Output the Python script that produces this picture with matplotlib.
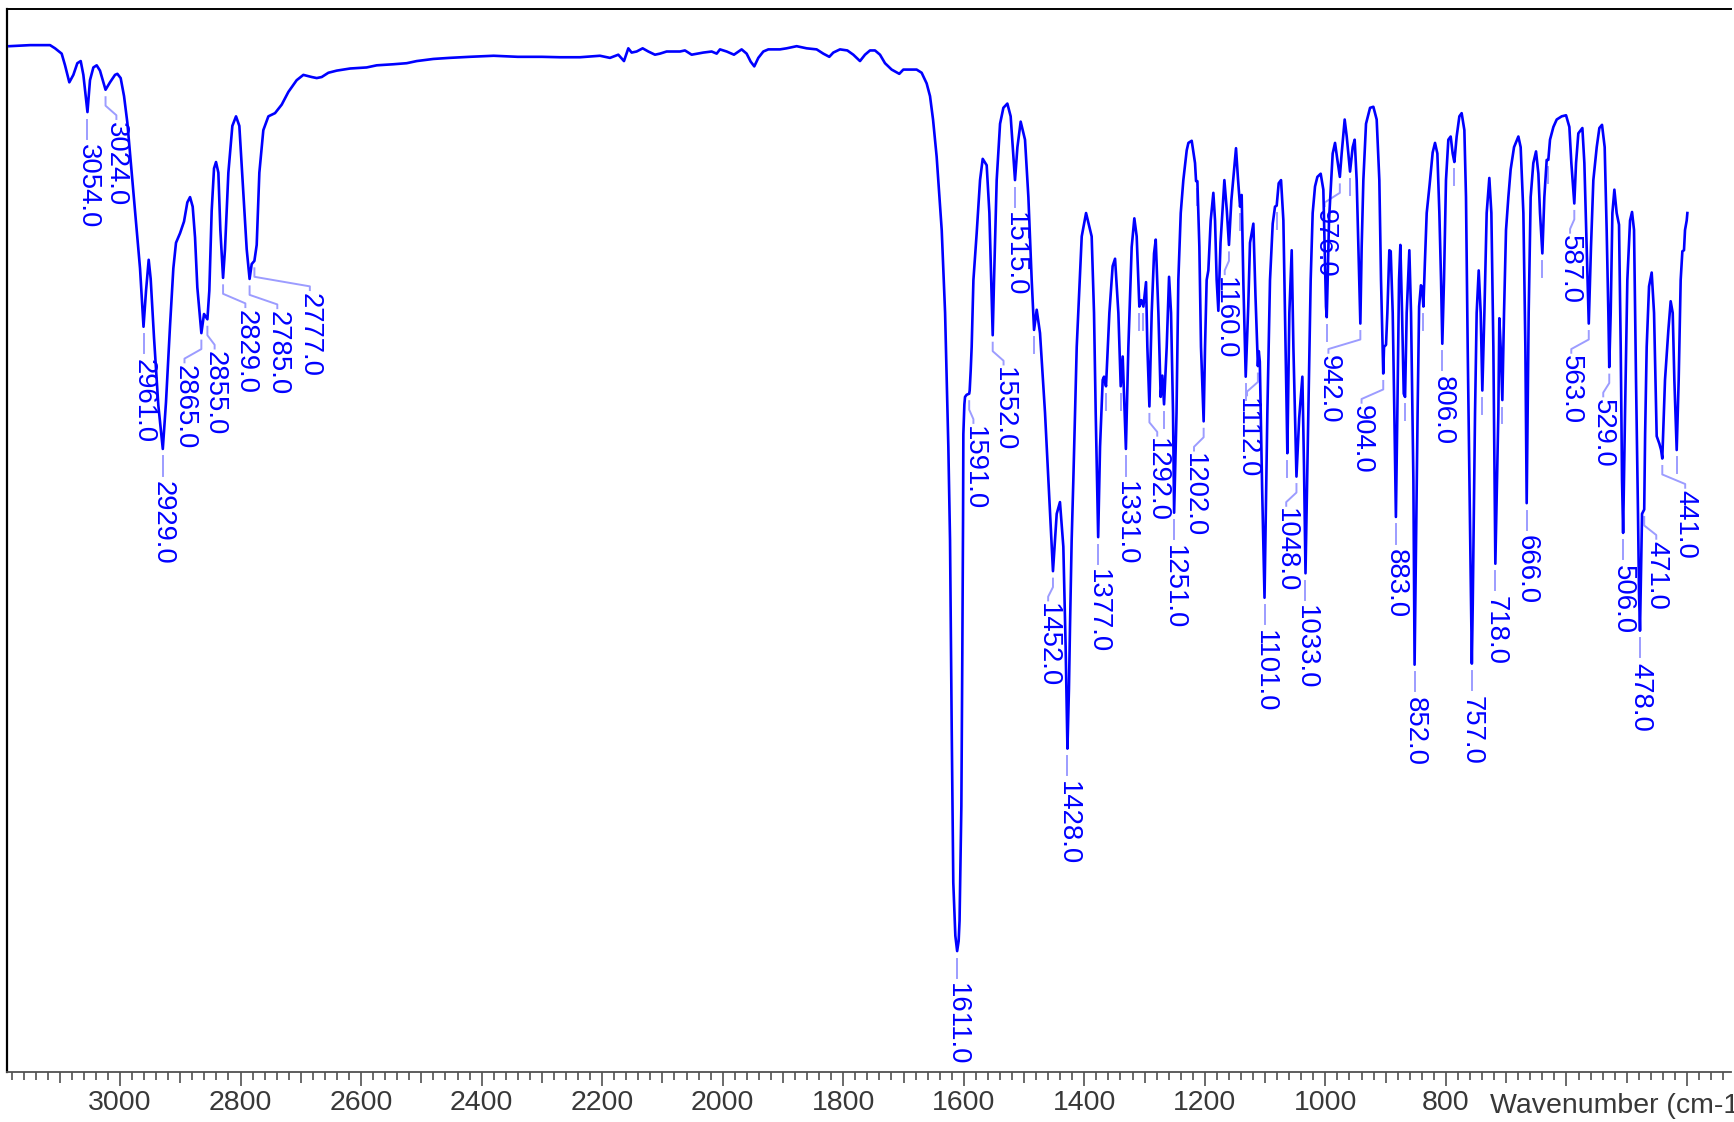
import numpy as np
import matplotlib
matplotlib.use("Agg")
import matplotlib.pyplot as plt
from matplotlib.transforms import blended_transform_factory

# ---------------- data ----------------
# C-H stretching region
wn_ch = [3183.6, 3149.3, 3116.1, 3107.8, 3096.8, 3091.2, 3084.1, 3077.4, 3070.8, 3065.2,
         3060.8, 3054, 3049.8, 3044.2, 3038.7, 3033.2, 3024, 3016.6, 3008.3, 3004.4,
         2998.9, 2993.3, 2987.8, 2980.6, 2972.3, 2966.8, 2961, 2956.8, 2952.4, 2949.1,
         2943.6, 2936.4, 2929, 2923.7, 2917, 2911.5, 2907.1, 2900.4, 2893.8, 2888.3,
         2883.8, 2879.4, 2875.5, 2871.7, 2865, 2860.6, 2855, 2851.8, 2847.9, 2844,
         2840.7, 2836.8, 2833.5, 2829, 2825.8, 2820.2, 2813.6, 2807.5, 2802, 2796.4,
         2789.8, 2785, 2781.5, 2777, 2773.2, 2768.8, 2762.2, 2753.8, 2742.8, 2731.7,
         2720.6, 2706.9, 2695.8, 2682, 2673.6, 2665.3, 2654.3, 2640.5, 2618.2, 2590.8,
         2574.1, 2546.5, 2524.3, 2507.7, 2480.1, 2453.5, 2420, 2380, 2340, 2300]
t_ch = [96.5, 96.6, 96.6, 96.3, 95.8, 94.7, 93.1, 93.8, 94.9, 95.1,
        93.8, 90.3, 93.3, 94.5, 94.7, 94.2, 92.4, 93.1, 93.8, 93.9,
        93.5, 91.8, 89.3, 84.6, 79.2, 75.6, 70.1, 73.5, 76.4, 74.6,
        69.1, 62.7, 58.6, 63.0, 70.2, 75.6, 78.0, 78.9, 80.0, 81.8,
        82.3, 81.4, 78.5, 73.8, 69.5, 71.3, 70.8, 73.5, 81.0, 85.0,
        85.6, 84.6, 79.2, 74.7, 77.4, 84.6, 89.0, 89.9, 89.0, 83.6,
        77.4, 74.6, 76.0, 76.3, 77.8, 84.6, 88.6, 89.9, 90.2, 91.0,
        92.2, 93.3, 93.8, 93.6, 93.5, 93.6, 94.0, 94.2, 94.4, 94.5,
        94.7, 94.8, 94.9, 95.1, 95.3, 95.4, 95.5, 95.6, 95.5, 95.5]

# flat region 2270-1630
wn_flat = [2270, 2236.8, 2203.6, 2187, 2173.2, 2163.8, 2156.6, 2151.1, 2142.8, 2132.8,
           2123.4, 2112.4, 2104.1, 2093, 2070.9, 2062.6, 2051.5, 2032.2, 2018.3, 2010,
           2004.5, 1993.4, 1981.3, 1968.6, 1960.3, 1953.6, 1947.6, 1940.9, 1932.6, 1924.3,
           1905, 1893.9, 1877.3, 1860.7, 1844.1, 1833.1, 1823.1, 1816.5, 1805.4, 1793.2,
           1783.3, 1772.2, 1763.9, 1755.6, 1747.3, 1739, 1730.7, 1719.7, 1707, 1700.3,
           1689.2, 1678.2, 1669.9, 1661.6, 1656, 1651, 1645, 1636.6, 1631]
t_flat = [95.46, 95.46, 95.6, 95.4, 95.7, 95.1, 96.3, 95.9, 96.0, 96.3,
          96.0, 95.7, 95.8, 96.0, 96.0, 96.1, 95.7, 95.9, 96.0, 95.8,
          96.2, 96.0, 95.7, 96.2, 95.8, 95.05, 94.6, 95.4, 96.0, 96.2,
          96.2, 96.3, 96.5, 96.3, 96.2, 95.8, 95.5, 95.9, 96.2, 96.1,
          95.7, 95.1, 95.7, 96.1, 96.1, 95.7, 94.9, 94.3, 93.9, 94.3,
          94.3, 94.3, 94.0, 93.0, 91.8, 89.6, 86.1, 79.2, 71.4]

# fingerprint region 1630-1000
wn_fp1 = [1625.6, 1622.8, 1620, 1617.4, 1614, 1611, 1608.5, 1607, 1604, 1602.4,
          1601.2, 1600.7, 1599, 1597.9, 1595.2, 1591, 1590.2, 1588.5, 1586.9, 1584,
          1578.6, 1573, 1568.6, 1562, 1557.5, 1553.7, 1552, 1549.8, 1545.4, 1539.8,
          1534.3, 1527.7, 1522.2, 1515, 1511, 1505.6, 1498.4, 1492.8, 1487.3, 1483.4,
          1479, 1473.5, 1465.2, 1459.6, 1452, 1445.8, 1440.4, 1434.8, 1431, 1428,
          1425.5, 1423.7, 1421, 1418.2, 1412.6, 1404.3, 1397.1, 1387.8, 1383.9, 1381.1,
          1377, 1373.9, 1369.5, 1367.3, 1364, 1358.4, 1353, 1349, 1343.5, 1339.6,
          1336.3, 1331, 1326.9, 1321.4, 1317, 1313.1, 1308.7, 1305.3, 1302, 1297.6,
          1295.4, 1292, 1288.2, 1284.3, 1281.5, 1277.1, 1273.3, 1270.5, 1267.7, 1263.3,
          1259.4, 1256.1, 1252.8, 1251, 1247, 1244, 1240, 1235.7, 1230.1, 1227.3,
          1221.8, 1216.3, 1214.6, 1212.4, 1209.1, 1206.4, 1202, 1199.7, 1197, 1194.2,
          1190.3, 1185.9, 1183.1, 1180.4, 1177.6, 1174, 1167.6, 1163.5, 1160, 1156,
          1148.3, 1145, 1141.6, 1138.9, 1136, 1132.2, 1128, 1125.1, 1119.5, 1116,
          1112, 1110.5, 1108.8, 1105, 1101, 1096.3, 1091.9, 1087.4, 1083.6, 1080.8,
          1077.5, 1073.6, 1069.7, 1067, 1064.2, 1063.1, 1059.8, 1055.9, 1053.1, 1048,
          1043.5, 1038.2, 1035.5, 1033, 1028.3, 1024.4, 1021.1, 1017.2, 1013.3, 1007.8,
          1003.4, 1001.2]
t_fp1 = [58.8, 50.0, 32.2, 17.8, 12.8, 11.35, 12.3, 14.2, 25.0, 39.4,
         52.0, 60.0, 62.8, 63.5, 63.7, 63.8, 64.1, 66.0, 68.2, 74.5,
         78.9, 83.9, 85.9, 85.3, 80.8, 72.9, 69.3, 74.5, 83.9, 89.2,
         90.7, 91.1, 89.9, 83.9, 87.0, 89.4, 87.7, 82.3, 74.5, 69.8,
         71.7, 69.5, 62.0, 55.7, 47.1, 52.5, 53.6, 49.4, 40.0, 30.4,
         36.0, 42.0, 50.0, 55.7, 68.2, 78.6, 80.8, 78.6, 71.4, 62.0,
         50.3, 58.8, 65.1, 65.4, 64.5, 71.4, 75.8, 76.5, 71.4, 64.5,
         67.3, 58.6, 68.2, 77.6, 80.3, 78.6, 72.0, 72.6, 72.0, 74.3,
         68.2, 62.6, 71.4, 77.0, 78.3, 71.4, 63.5, 65.5, 62.8, 68.2,
         74.8, 71.4, 62.0, 52.6, 62.0, 74.5, 80.8, 83.9, 86.7, 87.4,
         87.6, 85.5, 83.8, 83.8, 77.6, 68.2, 61.2, 68.2, 74.5, 75.4,
         80.1, 82.7, 80.1, 74.5, 71.6, 78.0, 83.9, 81.0, 77.8, 82.0,
         86.9, 84.0, 81.4, 82.5, 74.0, 65.4, 72.0, 78.0, 79.8, 73.0,
         66.4, 67.8, 66.8, 55.0, 44.6, 62.0, 74.5, 79.8, 81.4, 81.5,
         83.6, 83.9, 80.1, 71.4, 62.0, 58.2, 71.4, 77.3, 68.2, 56.0,
         61.5, 65.4, 57.0, 46.9, 62.0, 74.5, 80.8, 83.3, 84.2, 84.5,
         83.0, 77.6]

# fingerprint region 1000-399
wn_fp2 = [999, 997.8, 996.2, 994, 991.2, 987.9, 984, 980.1, 976, 973,
          968, 964.6, 959.1, 954.7, 951.4, 948.1, 945.3, 942, 939.8, 937,
          932.6, 925.9, 920.4, 914.9, 910.5, 907.7, 904, 902.7, 899.4, 897.2,
          893.9, 891.6, 888.3, 885.6, 883, 880.6, 877.8, 875.6, 872.8, 870,
          867.8, 865.1, 860.7, 857.9, 854, 852, 849.5, 847, 844.5, 841.5,
          839.5, 837.4, 835, 831.9, 827, 822, 818.1, 814.2, 810.9, 808.1,
          806, 803.2, 799.9, 796, 792.1, 788.8, 786, 782.2, 777.7, 773.9,
          769.4, 766.7, 763.9, 761.1, 758.4, 757, 755.5, 751.7, 749, 745.6,
          742.3, 739.6, 736.2, 732.4, 728, 724.6, 721.3, 718, 713, 711.4,
          709.2, 706.4, 703.6, 700.3, 696.4, 692.6, 687, 679.8, 676, 671.5,
          668.2, 666, 662.7, 659.4, 655, 650.5, 646.6, 643.9, 640, 636.7,
          632.8, 630.1, 627.3, 621.7, 616.2, 607.9, 600.7, 595.2, 591.9, 587,
          584.1, 580.3, 573.6, 570.3, 566.4, 563, 559.3, 555.4, 549.8, 545.4,
          541, 536.6, 533.3, 530.5, 529, 526.6, 523.8, 520.5, 516.7, 512.8,
          510, 507.8, 506, 502.8, 499, 494.5, 491.2, 487.9, 484.6, 481.3,
          479.6, 478, 476, 474.6, 471, 469.5, 466.9, 463, 458.6, 454.7,
          450.3, 445.9, 443, 441, 436.5, 430.9, 427.1, 423.7, 421, 417.1,
          413.8, 410.5, 407.7, 405, 403.3, 400.5, 399.4]
t_fp2 = [72.0, 71.0, 74.5, 80.1, 83.0, 86.4, 87.4, 85.8, 84.2, 86.4,
         89.6, 88.0, 84.7, 87.0, 87.7, 83.9, 77.6, 70.4, 77.6, 83.9,
         89.2, 90.7, 90.8, 89.6, 83.9, 74.5, 65.7, 68.2, 68.4, 71.4,
         77.3, 77.2, 71.4, 62.0, 52.2, 62.0, 74.5, 77.8, 71.4, 63.8,
         63.5, 71.4, 77.3, 71.4, 55.7, 38.3, 50.0, 62.0, 72.0, 74.0,
         73.8, 72.0, 76.0, 80.8, 83.5, 86.5, 87.4, 86.4, 80.8, 74.5,
         68.5, 74.5, 83.9, 87.7, 88.0, 86.4, 85.6, 88.0, 89.9, 90.2,
         88.6, 82.3, 68.2, 55.7, 44.4, 38.4, 44.0, 62.0, 71.4, 75.4,
         71.4, 64.1, 71.4, 80.8, 84.1, 80.8, 68.2, 47.8, 62.0, 70.9,
         68.2, 63.2, 71.4, 79.2, 82.3, 84.9, 87.0, 88.0, 87.0, 80.8,
         68.2, 53.5, 71.4, 82.3, 85.5, 86.6, 84.5, 80.8, 77.0, 82.3,
         85.8, 85.8, 87.7, 88.9, 89.6, 89.9, 90.0, 88.9, 85.5, 81.7,
         85.5, 88.3, 88.8, 85.5, 77.6, 70.4, 77.6, 83.9, 87.0, 88.8,
         89.1, 87.0, 79.2, 71.4, 66.3, 71.4, 80.8, 83.0, 80.8, 79.7,
         68.2, 55.7, 50.7, 62.0, 74.5, 80.1, 80.9, 79.2, 65.1, 52.5,
         45.0, 41.5, 48.0, 52.5, 52.9, 60.0, 68.2, 73.9, 75.2, 71.4,
         59.8, 59.1, 58.5, 57.7, 65.1, 69.8, 72.5, 71.4, 65.1, 58.5,
         65.1, 74.5, 77.2, 77.3, 79.2, 80.1, 80.8]

# labelled peaks and where their labels sit
peak_wn = [3054, 3024, 2961, 2929, 2865, 2855, 2829, 2785, 2777,
           1611, 1591, 1552, 1515, 1452, 1428, 1377, 1331, 1292, 1251, 1202,
           1160, 1112, 1101, 1048, 1033, 976, 942, 904, 883, 852, 806, 757,
           718, 666, 587, 563, 529, 506, 478, 471, 441]
label_wn = [3054, 3006, 2961, 2929, 2893, 2843, 2792, 2739, 2685,
            1611, 1584, 1534, 1515, 1460, 1428, 1377, 1331, 1279, 1251, 1218,
            1167, 1130, 1101, 1065, 1033, 1001, 995, 940, 883, 852, 806, 757,
            718, 666, 594, 592, 539, 506, 478, 451, 403]
# unlabelled peak markers
stub_wn = [1483.4, 1364, 1339.6, 1308.7, 1302, 1267.7, 1212.4, 1141.6, 1132.2,
           1080.8, 1063.1, 997.8, 959.1, 867.8, 837.4, 786, 739.6, 706.4, 640,
           630.1, 417.1]

# ---------------- plotting ----------------
plt.rcParams['font.family'] = ['Liberation Sans', 'DejaVu Sans']

wn = np.array(wn_ch + wn_flat + wn_fp1 + wn_fp2, dtype=float)
tr = np.array(t_ch + t_flat + t_fp1 + t_fp2, dtype=float)

W, H = 1734, 1122
fig = plt.figure(figsize=(W / 100, H / 100), dpi=100)
y_axis, y_top, x_left, x_right = 1071.7, 9.0, 7.0, 1731.0
ax = fig.add_axes([x_left / W, (H - y_axis) / H, (x_right - x_left) / W, (y_axis - y_top) / H])

BLUE = '#0000ff'
LINK = '#9c9cff'

ax.plot(wn, tr, color=BLUE, lw=1.9, solid_joinstyle='round', zorder=3)

order = np.argsort(wn)
def t_at(w):
    return float(np.interp(w, wn[order], tr[order]))

for pw, lw_ in zip(peak_wn, label_wn):
    t0 = t_at(pw)
    if abs(lw_ - pw) < 0.5:
        ax.plot([pw, pw], [t0 - 0.7, t0 - 2.5], color=LINK, lw=1.4, zorder=2)
    else:
        ax.plot([pw, pw, lw_, lw_], [t0 - 0.7, t0 - 1.5, t0 - 2.4, t0 - 2.75],
                color=LINK, lw=1.4, zorder=2)
    ax.text(lw_, t0 - 3.0, f"{pw:.1f}", rotation=270, ha='center', va='top',
            color=BLUE, fontsize=19.8, zorder=4)

for sw in stub_wn:
    t0 = t_at(sw)
    ax.plot([sw, sw], [t0 - 0.7, t0 - 2.2], color=LINK, lw=1.4, zorder=2)

ax.set_xlim(3187.5, 327)
ax.set_ylim(0, 100)
ax.set_yticks([])

major = np.arange(400, 3200, 100)
ax.set_xticks(major)
ax.set_xticklabels([str(int(v)) if (v % 200 == 0 and v >= 800) else '' for v in major])
ax.set_xticks(np.arange(340, 3200, 20), minor=True)
ax.tick_params(axis='x', which='major', direction='out', length=10, width=1.2,
               color='#505050', labelsize=20.5, labelcolor='#383838', pad=3)
ax.tick_params(axis='x', which='minor', direction='out', length=5.5, width=1.2,
               color='#505050')
for tk, loc in zip(ax.xaxis.get_major_ticks(), major):
    if loc % 200 != 0:
        tk.tick1line.set_markersize(8)

ax.spines['right'].set_visible(False)
ax.spines['left'].set_color('black')
ax.spines['left'].set_linewidth(1.6)
ax.spines['top'].set_color('black')
ax.spines['top'].set_linewidth(1.4)
ax.spines['bottom'].set_color('#505050')
ax.spines['bottom'].set_linewidth(1.3)

trans = blended_transform_factory(ax.transData, ax.transAxes)
ax.text(727, -0.0325, 'Wavenumber (cm-1)', transform=trans, ha='left', va='center',
        fontsize=20.5, color='#383838', clip_on=False)

fig.savefig('out.png', dpi=100)
